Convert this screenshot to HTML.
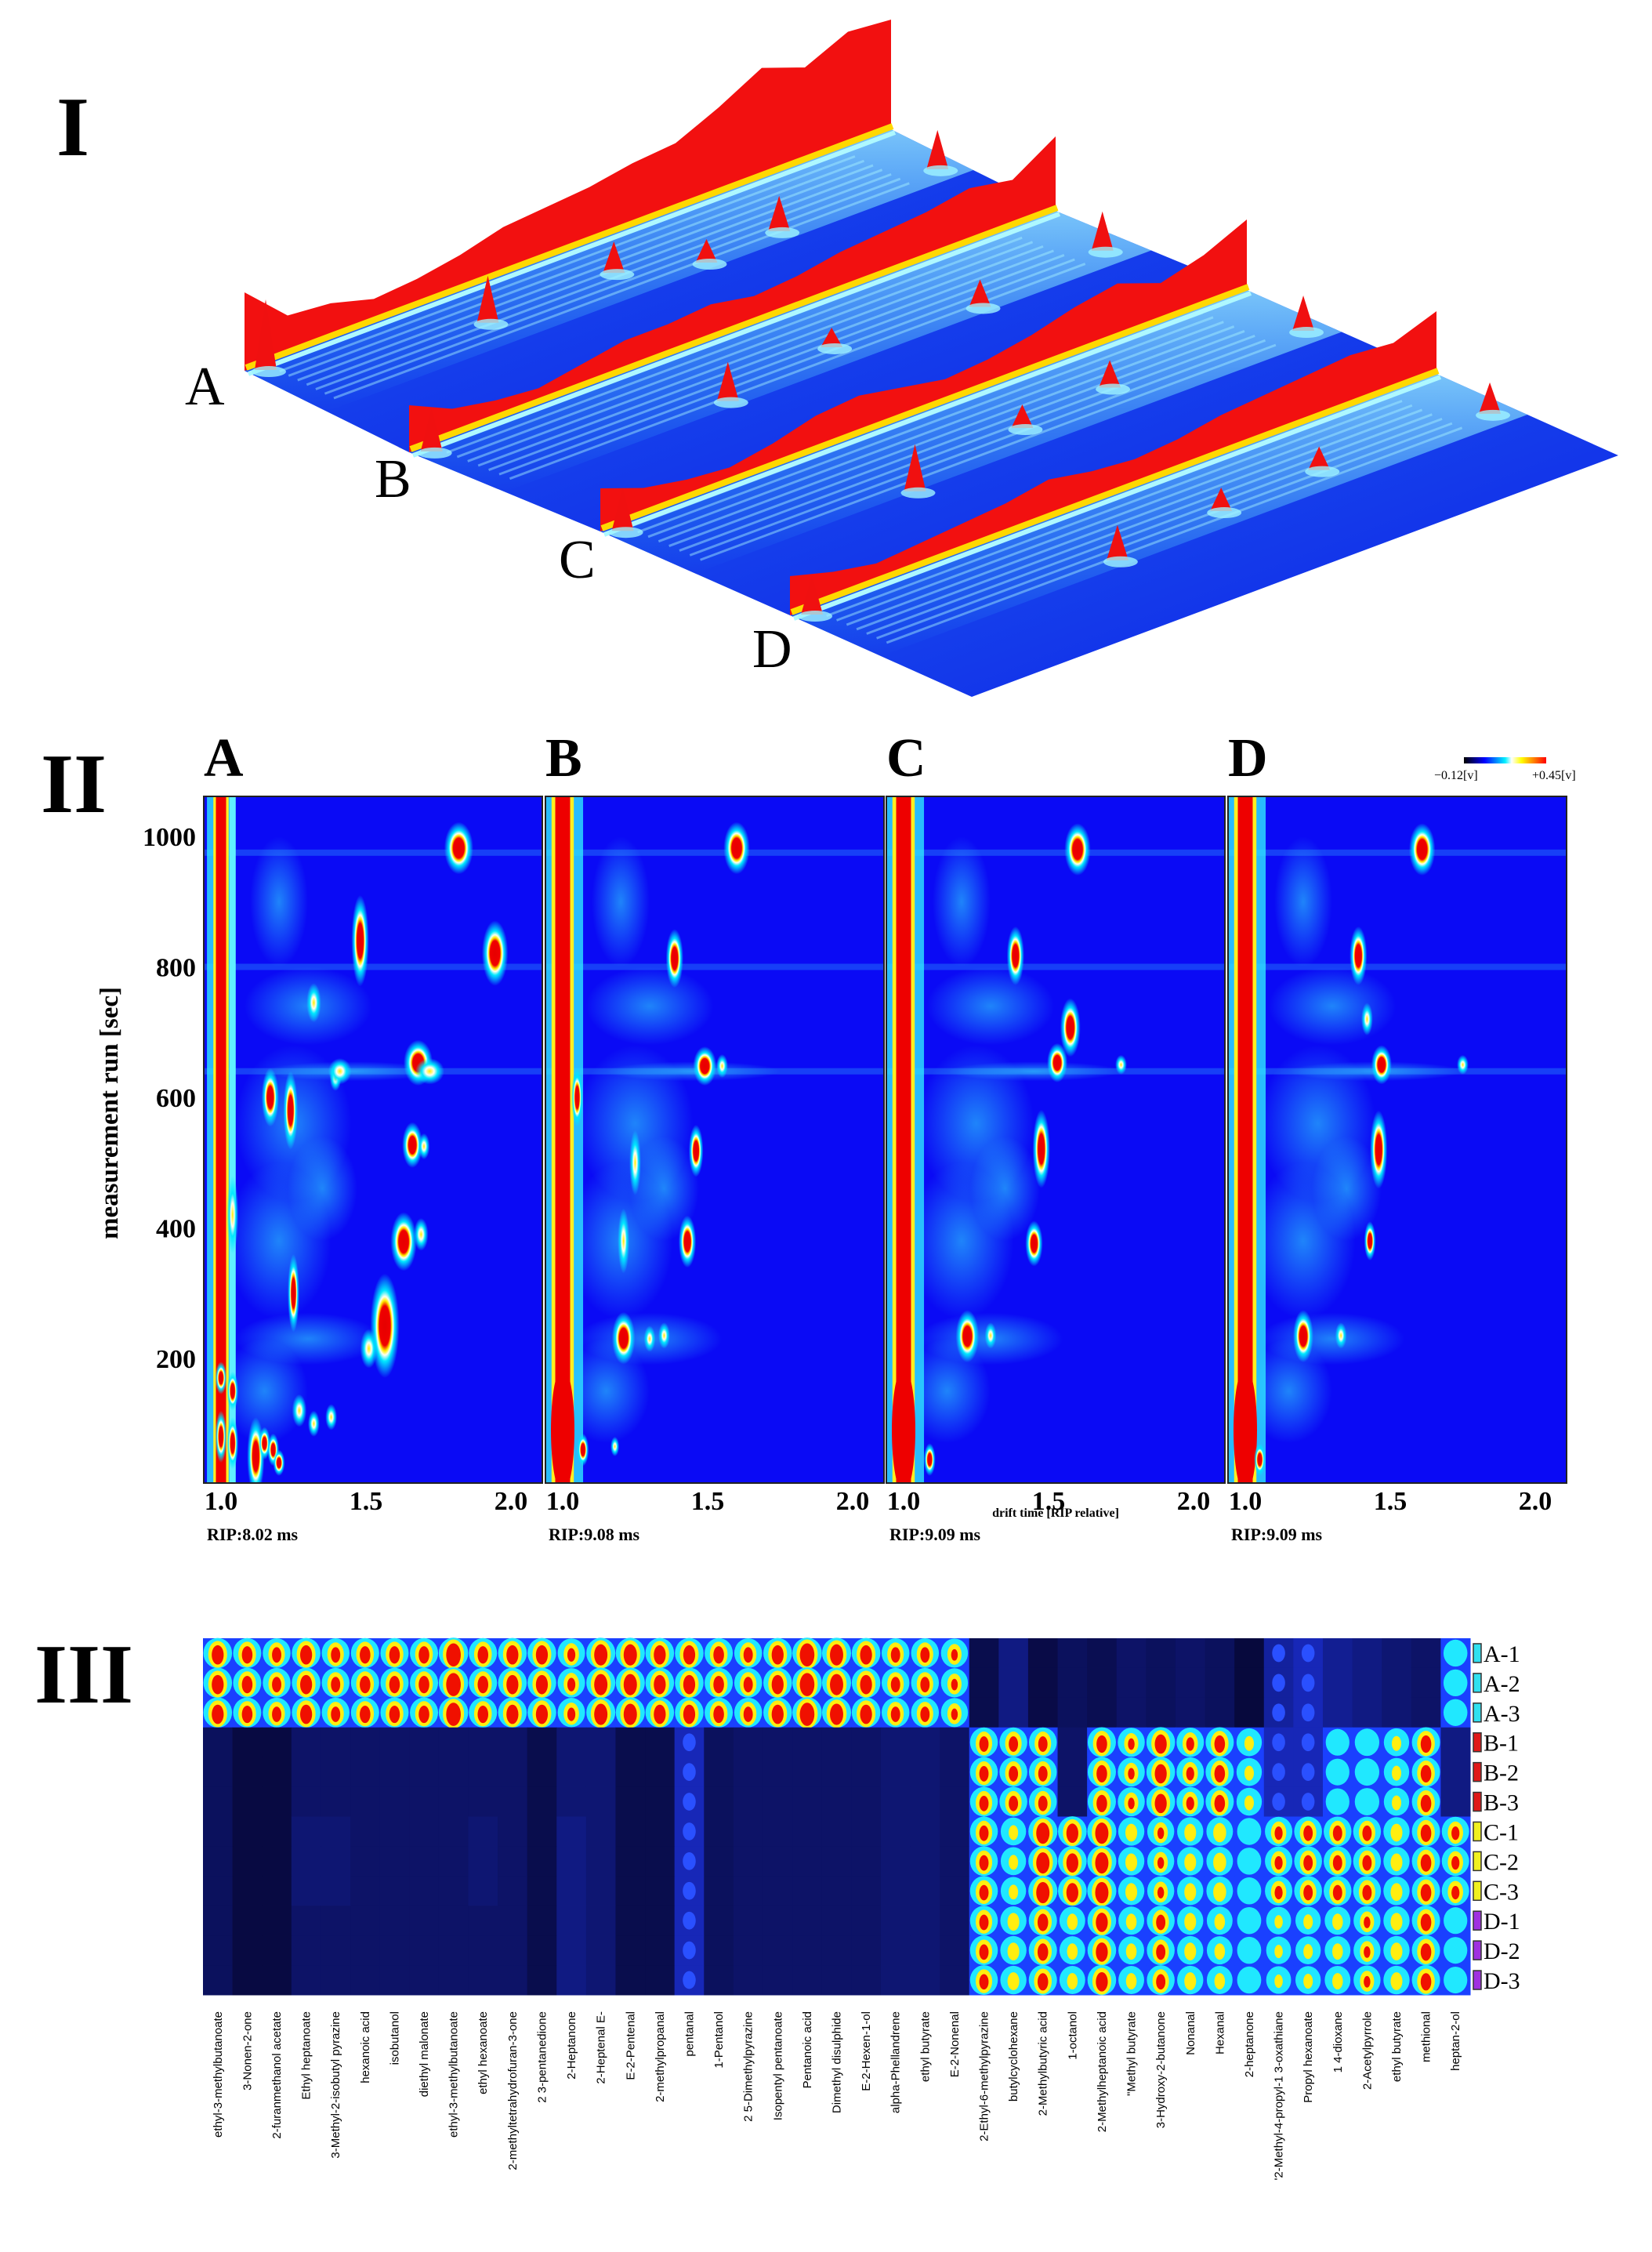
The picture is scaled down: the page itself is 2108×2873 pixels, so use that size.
<!DOCTYPE html>
<html><head><meta charset="utf-8"><style>
html,body{margin:0;padding:0;background:#fff;}
svg{display:block;}
.serif{font-family:"Liberation Serif",serif;}
.sans{font-family:"Liberation Sans",sans-serif;}
</style></head><body>
<svg id="fig" xmlns="http://www.w3.org/2000/svg" width="2108" height="2873" viewBox="0 0 2108 2873">
<defs>
<radialGradient id="gRed" cx="50%" cy="50%" r="50%">
<stop offset="0" stop-color="#e60000"/><stop offset="0.38" stop-color="#f00000"/><stop offset="0.48" stop-color="#ffee00"/><stop offset="0.56" stop-color="#fffff0"/><stop offset="0.68" stop-color="#00e8ff"/><stop offset="1" stop-color="#00e8ff" stop-opacity="0"/>
</radialGradient>
<radialGradient id="gYel" cx="50%" cy="50%" r="50%">
<stop offset="0" stop-color="#ffee00"/><stop offset="0.3" stop-color="#fffff0"/><stop offset="0.55" stop-color="#00e8ff"/><stop offset="1" stop-color="#00e8ff" stop-opacity="0"/>
</radialGradient>
<radialGradient id="gCy" cx="50%" cy="50%" r="50%">
<stop offset="0" stop-color="#30e8ff" stop-opacity="0.55"/><stop offset="1" stop-color="#30e8ff" stop-opacity="0"/>
</radialGradient>
<linearGradient id="gBar" x1="0" x2="1" y1="0" y2="0">
<stop offset="0" stop-color="#000"/><stop offset="0.25" stop-color="#0000ff"/><stop offset="0.5" stop-color="#00f0ff"/><stop offset="0.58" stop-color="#ffffff"/><stop offset="0.7" stop-color="#ffff00"/><stop offset="1" stop-color="#ff0000"/>
</linearGradient>
<linearGradient id="gSurf" x1="0" x2="1" y1="0" y2="1">
<stop offset="0" stop-color="#1e5cf0"/><stop offset="1" stop-color="#0c1ee6"/>
</linearGradient>
<linearGradient id="gBand" x1="0" x2="0" y1="0" y2="1">
<stop offset="0" stop-color="#9ff6ff" stop-opacity="0.9"/><stop offset="1" stop-color="#30c8ff" stop-opacity="0"/>
</linearGradient>
</defs>
<g id="p1"></g>
<g id="p2"></g>
<g id="p3"></g>
</svg>
<script>
// ---------- DATA ----------
const ridgeA=[100,50,45,30,35,45,60,65,70,80,85,110,140,120,145,140];
const ridgeB=[60,35,25,20,30,40,40,45,35,40,50,55,60,70,60,95];
const ridgeC=[55,35,25,20,30,45,50,40,30,35,45,60,70,50,65,90];
const ridgeD=[50,35,25,30,35,40,50,40,35,40,50,55,60,65,60,80];
const spikesA=[[0.02,0.05,90],[0.3,0.3,60],[0.5,0.28,40],[0.72,0.42,45],[0.97,0.4,50],[0.6,0.45,30]];
const spikesB=[[0.02,0.05,55],[0.36,0.45,50],[0.55,0.35,25],[0.75,0.45,35],[0.96,0.38,50]];
const spikesC=[[0.02,0.05,55],[0.34,0.5,60],[0.55,0.35,30],[0.7,0.3,35],[0.97,0.4,45]];
const spikesD=[[0.02,0.05,50],[0.38,0.45,45],[0.56,0.38,30],[0.72,0.35,30],[0.97,0.4,40]];

const peaksA=[[1.82,982,0.05,40,2],[1.945,821,0.045,50,2],[1.48,840,0.03,70,2],[1.68,653,0.05,35,2],[1.66,527,0.035,35,2],[1.63,379,0.045,45,2],[1.565,250,0.05,80,2],[1.17,600,0.03,45,2],[1.24,580,0.025,60,2],[1.32,745,0.025,30,1],[1.395,630,0.02,20,1],[1.25,300,0.02,60,2],[1.04,420,0.02,60,1],[1.0,170,0.02,25,2],[1.04,150,0.02,30,2],[1.0,80,0.02,40,2],[1.04,70,0.02,40,2],[1.12,50,0.03,60,2],[1.15,70,0.02,25,2],[1.18,60,0.02,25,2],[1.2,40,0.02,20,2],[1.27,120,0.025,25,1],[1.32,100,0.02,20,1],[1.38,110,0.02,20,1],[1.51,215,0.03,30,1],[1.69,390,0.025,25,1],[1.41,640,0.04,20,1],[1.72,640,0.05,20,1],[1.7,525,0.02,20,1]];
const peaksB=[[1.6,982,0.045,40,2],[1.386,813,0.03,45,2],[1.49,648,0.04,30,2],[1.55,648,0.02,18,1],[1.46,518,0.025,40,2],[1.43,379,0.03,40,2],[1.21,231,0.04,40,2],[1.05,600,0.02,45,2],[1.07,60,0.02,25,2],[1.18,65,0.015,15,1],[1.21,380,0.02,50,1],[1.3,230,0.02,20,1],[1.35,235,0.02,20,1],[1.25,500,0.02,50,1]];
const peaksC=[[1.6,980,0.045,40,2],[1.386,817,0.03,45,2],[1.575,707,0.035,45,2],[1.53,653,0.035,30,2],[1.475,521,0.03,60,2],[1.45,376,0.03,35,2],[1.22,234,0.04,40,2],[1.09,45,0.02,25,2],[1.75,650,0.02,15,1],[1.3,235,0.02,20,1]];
const peaksD=[[1.61,980,0.045,40,2],[1.39,817,0.03,45,2],[1.42,720,0.02,25,1],[1.47,650,0.035,30,2],[1.46,520,0.03,60,2],[1.43,380,0.02,30,2],[1.2,234,0.035,40,2],[1.05,45,0.02,25,2],[1.33,235,0.02,20,1],[1.75,650,0.02,15,1]];
const haze=[[1.3,230,0.25,40,0],[1.2,380,0.18,120,0],[1.25,560,0.2,120,0],[1.3,740,0.22,60,0],[1.15,150,0.15,80,0],[1.45,640,0.3,15,0],[1.2,900,0.1,100,0],[1.35,460,0.12,80,0]];
const panelLetters=["A","B","C","D"];
const ripLabels=["RIP:8.02 ms","RIP:9.08 ms","RIP:9.09 ms","RIP:9.09 ms"];
const yTicks=[200,400,600,800,1000];
const xTicks=[1.0,1.5,2.0];

const compounds=["ethyl-3-methylbutanoate","3-Nonen-2-one","2-furanmethanol acetate","Ethyl heptanoate","3-Methyl-2-isobutyl pyrazine","hexanoic acid","isobutanol","diethyl malonate","ethyl-3-methylbutanoate","ethyl hexanoate","2-methyltetrahydrofuran-3-one","2 3-pentanedione","2-Heptanone","2-Heptenal E-","E-2-Pentenal","2-methylpropanal","pentanal","1-Pentanol","2 5-Dimethylpyrazine","Isopentyl pentanoate","Pentanoic acid","Dimethyl disulphide","E-2-Hexen-1-ol","alpha-Phellandrene","ethyl butyrate","E-2-Nonenal","2-Ethyl-6-methylpyrazine","butylcyclohexane","2-Methylbutyric acid","1-octanol","2-Methylheptanoic acid","\"Methyl butyrate","3-Hydroxy-2-butanone","Nonanal","Hexanal","2-heptanone","'2-Methyl-4-propyl-1 3-oxathiane","Propyl hexanoate","1 4-dioxane","2-Acetylpyrrole","ethyl butyrate","methional","heptan-2-ol"];
const groupA=[0.9,0.85,0.8,0.9,0.8,0.85,0.85,0.85,1.0,0.85,0.9,0.9,0.75,0.95,0.95,0.9,0.9,0.85,0.8,0.9,1.0,0.95,0.9,0.8,0.8,0.7,0.05,0.15,0.04,0.08,0.06,0.1,0.08,0.1,0.08,0.02,0.2,0.25,0.18,0.15,0.12,0.1,0.33];
const groupB=[0.08,0.03,0.03,0.1,0.1,0.1,0.1,0.1,0.1,0.1,0.1,0.05,0.12,0.12,0.05,0.05,0.25,0.08,0.1,0.1,0.1,0.1,0.1,0.12,0.12,0.1,0.8,0.8,0.8,0.1,0.85,0.7,0.9,0.75,0.85,0.5,0.25,0.25,0.3,0.4,0.5,0.85,0.15];
const groupC=[0.08,0.03,0.03,0.12,0.12,0.1,0.1,0.1,0.1,0.12,0.1,0.05,0.15,0.12,0.05,0.05,0.25,0.08,0.1,0.1,0.1,0.1,0.1,0.12,0.12,0.1,0.8,0.5,0.95,0.9,0.95,0.6,0.7,0.6,0.65,0.35,0.75,0.8,0.8,0.8,0.6,0.85,0.75];
const groupD=[0.08,0.03,0.03,0.1,0.1,0.1,0.1,0.1,0.1,0.1,0.1,0.05,0.15,0.12,0.05,0.05,0.25,0.08,0.1,0.1,0.1,0.1,0.1,0.12,0.12,0.1,0.8,0.6,0.85,0.55,0.9,0.55,0.8,0.6,0.55,0.35,0.45,0.5,0.55,0.7,0.6,0.85,0.3];
const rowLabels=["A-1","A-2","A-3","B-1","B-2","B-3","C-1","C-2","C-3","D-1","D-2","D-3"];

const NS="http://www.w3.org/2000/svg";
function mk(tag,parent,attrs){const e=document.createElementNS(NS,tag);for(const k in attrs)e.setAttribute(k,attrs[k]);parent.appendChild(e);return e;}

// ---------- Panel I ----------
const p1=document.getElementById('p1');
const t1=mk('text',p1,{x:72,y:198,'font-size':108,'font-weight':'bold',class:'serif'});t1.textContent='I';


const starts=[[312,473],[522,577],[766,678],[1008,785]];
const vec=[825,-308];
const off=[232,104];
const ridges=[ridgeA,ridgeB,ridgeC,ridgeD];
const spikes=[spikesA,spikesB,spikesC,spikesD];
const letterPos=[[236,516],[478,634],[713,737],[960,851]];
for(let k=0;k<4;k++){
  const [sx,sy]=starts[k];
  const g=mk('g',p1,{});
  
  
  const ox=(k<3?starts[k+1][0]-sx:off[0]), oy=(k<3?starts[k+1][1]-sy:off[1]);
  const surf=mk('polygon',g,{points:`${sx},${sy} ${sx+vec[0]},${sy+vec[1]} ${sx+vec[0]+ox},${sy+vec[1]+oy} ${sx+ox},${sy+oy}`,fill:'url(#gSurf)'});
  
  
  const bd=0.5;
  const band=mk('polygon',g,{points:`${sx},${sy} ${sx+vec[0]},${sy+vec[1]} ${sx+vec[0]+ox*bd},${sy+vec[1]+oy*bd} ${sx+ox*bd},${sy+oy*bd}`,fill:'url(#gBand)',opacity:0.8});
  
  
  for(let s=0;s<8;s++){
    const d=0.04+s*0.055;
    const ln=mk('line',g,{x1:sx+ox*d+vec[0]*0.03,y1:sy+oy*d+vec[1]*0.03,x2:sx+ox*d+vec[0]*0.92,y2:sy+oy*d+vec[1]*0.92,stroke:'#a8f4ff','stroke-width':3,opacity:0.45});
    
    
  }
  const h=ridges[k];const n=h.length;
  let top=[],base=[];
  for(let i=0;i<n;i++){const t=i/(n-1);const bx=sx+vec[0]*t,by=sy+vec[1]*t;base.push([bx,by]);top.push([bx,by-h[i]]);}
  const pts=top.map(p=>p.join(',')).concat(base.slice().reverse().map(p=>p.join(','))).join(' ');
  const rp=mk('polygon',g,{points:pts,fill:'#f21010'});
  
  
  const yl=mk('polyline',g,{points:base.map(p=>(p[0]+2)+','+(p[1]-4)).join(' '),fill:'none',stroke:'#ffd800','stroke-width':8});
  
  
  const cl=mk('polyline',g,{points:base.map(p=>(p[0]+5)+','+(p[1]+4)).join(' '),fill:'none',stroke:'#aef8ff','stroke-width':6});
  
  
  for(const sp of spikes[k]){
    const bx=sx+vec[0]*sp[0]+ox*sp[1], by=sy+vec[1]*sp[0]+oy*sp[1];
    const tri=mk('polygon',g,{points:`${bx-14},${by} ${bx},${by-sp[2]} ${bx+14},${by}`,fill:'#f01010'});
    
    
    const sb=mk('ellipse',g,{cx:bx+4,cy:by+2,rx:22,ry:7,fill:'#9ff4ff',opacity:0.8});
    
    
  }
  const lt=mk('text',p1,{x:letterPos[k][0],y:letterPos[k][1],'font-size':70,class:'serif'});lt.textContent=panelLetters[k];
  
  
}

// ---------- Panel II ----------
const p2=document.getElementById('p2');
const t2=mk('text',p2,{x:52,y:1036,'font-size':108,'font-weight':'bold',class:'serif'});t2.textContent='II';


const PT=1016,PB=1892,PW=432;
const lefts=[260,696,1131,1567];
function yS(t){return 1733-(t-200)*0.8325;}
function xS(left,d){return left+22+(d-1.0)*370;}
const peakSets=[peaksA,peaksB,peaksC,peaksD];
for(let k=0;k<4;k++){
  const L=lefts[k];
  const g=mk('g',p2,{});
  
  
  const cp=mk('clipPath',g,{id:'cp'+k});mk('rect',cp,{x:L,y:PT,width:PW,height:PB-PT});
  const inner=mk('g',g,{'clip-path':'url(#cp'+k+')'});
  const bg=mk('rect',inner,{x:L,y:PT,width:PW,height:PB-PT,fill:'#0a0af5'});
  
  
  for(const hz of haze){
    const e=mk('ellipse',inner,{cx:xS(L,hz[0]),cy:yS(hz[1]),rx:hz[2]*370,ry:hz[3]*0.8325,fill:'url(#gCy)'});
    
    
  }
  for(const tl of [640,800,975]){
    const hl=mk('rect',inner,{x:L,y:yS(tl)-4,width:PW,height:8,fill:'#40e0ff',opacity:0.25});
    
    
  }
  const w=k===0?0.022:0.032;
  const rc=mk('rect',inner,{x:xS(L,1.0-w*2.2),y:PT,width:w*4.4*370,height:PB-PT,fill:'#30e8ff',opacity:0.8});
  
  
  const ryl=mk('rect',inner,{x:xS(L,1.0-w*1.2),y:PT,width:w*2.4*370,height:PB-PT,fill:'#ffef20'});
  
  
  const rr=mk('rect',inner,{x:xS(L,1.0-w*0.8),y:PT,width:w*1.6*370,height:PB-PT,fill:'#ee0000'});
  
  
  if(k===0){
    const r2=mk('rect',inner,{x:xS(L,1.04)-4,y:PT,width:8,height:PB-PT,fill:'#60f0ff'});
    
    
  } else {
    const r3=mk('ellipse',inner,{cx:xS(L,1.0),cy:yS(90),rx:15,ry:80,fill:'#ee0000'});
    
    
  }
  for(const p of peakSets[k]){
    const e=mk('ellipse',inner,{cx:xS(L,p[0]),cy:yS(p[1]),rx:p[2]*370,ry:p[3]*0.8325,fill:p[4]===2?'url(#gRed)':'url(#gYel)'});
    
    
  }
  const fr=mk('rect',g,{x:L,y:PT,width:PW,height:PB-PT,fill:'none',stroke:'#222','stroke-width':2});
  
  
  for(const xt of xTicks){
    const tx=mk('text',g,{x:xS(L,xt),y:1926,'font-size':34,'font-weight':'bold','text-anchor':'middle',class:'serif'});
    tx.textContent=xt.toFixed(1);
    
    
  }
  const rl=mk('text',g,{x:L+4,y:1965,'font-size':22,'font-weight':'bold',class:'serif'});rl.textContent=ripLabels[k];
  
  
  const pl=mk('text',g,{x:L,y:990,'font-size':70,'font-weight':'bold',class:'serif'});pl.textContent=panelLetters[k];
  
  
}
for(const yt of yTicks){
  const ty=mk('text',p2,{x:250,y:yS(yt)+12,'font-size':34,'font-weight':'bold','text-anchor':'end',class:'serif'});
  ty.textContent=yt;
  
  
}
const yTitle=mk('text',p2,{x:150,y:1420,'font-size':33,'font-weight':'bold','text-anchor':'middle',transform:'rotate(-90 150 1420)',class:'serif'});
yTitle.textContent='measurement run [sec]';


const xTitle=mk('text',p2,{x:1347,y:1935,'font-size':16,'font-weight':'bold','text-anchor':'middle',class:'serif'});
xTitle.textContent='drift time [RIP relative]';


const cb=mk('rect',p2,{x:1868,y:966,width:105,height:8,fill:'url(#gBar)'});


const cbl=mk('text',p2,{x:1830,y:994,'font-size':16,class:'serif'});cbl.textContent='\u22120.12[v]';


const cbr=mk('text',p2,{x:1955,y:994,'font-size':16,class:'serif'});cbr.textContent='+0.45[v]';



// ---------- Panel III ----------
const p3=document.getElementById('p3');
const t3=mk('text',p3,{x:44,y:2172,'font-size':108,'font-weight':'bold',class:'serif'});t3.textContent='III';


const HX=259,HY=2090,CW=(1876-259)/compounds.length,CH=(2545-2090)/12;
const groups=[groupA,groupB,groupC,groupD];
const legendCols=['#30e0f0','#e01818','#f0f020','#a030e0'];
function darkCol(v){const t=Math.min(v/0.3,1);const r=Math.round(6+t*20),g=Math.round(6+t*40),b=Math.round(50+t*160);return `rgb(${r},${g},${b})`;}
for(let r=0;r<12;r++){
  const vals=groups[Math.floor(r/3)];
  const y=HY+r*CH;
  for(let c=0;c<compounds.length;c++){
    const v=vals[c];const x=HX+c*CW;
    if(v<0.3){
      const cell=mk('rect',p3,{x:x,y:y,width:CW+0.5,height:CH+0.5,fill:darkCol(v)});
      
      
      if(v>=0.2){
        const bl=mk('ellipse',p3,{cx:x+CW/2,cy:y+CH/2,rx:CW*0.22,ry:CH*0.3,fill:'#2a50ff'});
        
        
      }
    } else {
      const cell=mk('rect',p3,{x:x,y:y,width:CW+0.5,height:CH+0.5,fill:'#1a40ff'});
      
      
      const cy=mk('ellipse',p3,{cx:x+CW/2,cy:y+CH/2,rx:CW*(0.36+0.14*v),ry:CH*(0.42+0.1*v),fill:'#20e8ff'});
      
      
      if(v>0.4){
        const ye=mk('ellipse',p3,{cx:x+CW/2,cy:y+CH*0.54,rx:CW*0.4*(v-0.1),ry:CH*0.5*(v),fill:'#ffee10'});
        
        
      }
      if(v>0.65){
        const re=mk('ellipse',p3,{cx:x+CW/2,cy:y+CH*0.56,rx:CW*0.45*(v-0.45),ry:CH*0.65*(v-0.4),fill:'#f01000'});
        
        
      }
    }
  }
  const ly=y+CH/2;
  const sq=mk('rect',p3,{x:1880,y:ly-12,width:10,height:24,fill:legendCols[Math.floor(r/3)],stroke:'#333','stroke-width':1.5});
  
  
  const lt=mk('text',p3,{x:1893,y:ly+11,'font-size':30,class:'serif'});lt.textContent=rowLabels[r];
  
  
}
for(let c=0;c<compounds.length;c++){
  const x=HX+c*CW+CW/2+5;
  const tx=mk('text',p3,{x:x,y:2566,'font-size':15,'text-anchor':'end',transform:`rotate(-90 ${x} 2566)`,class:'sans'});
  tx.textContent=compounds[c];
  
  
}
</script>
</body></html>
